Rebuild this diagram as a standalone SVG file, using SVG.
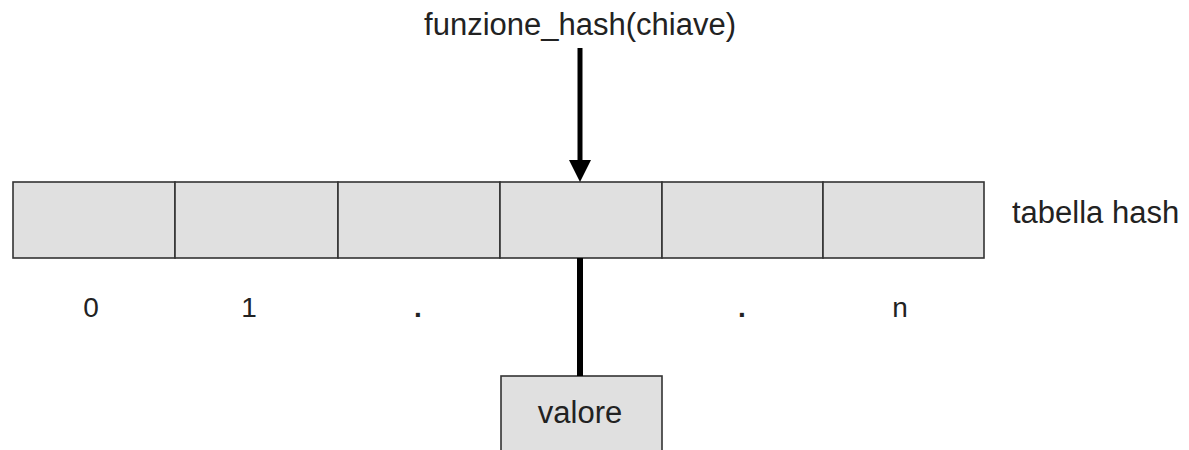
<svg xmlns="http://www.w3.org/2000/svg" width="1189" height="450" viewBox="0 0 1189 450">
<style>
.cell{fill:#e0e0e0;stroke:#333;stroke-width:1.6}
.t{font-family:"Liberation Sans",Arial,sans-serif;font-size:31px;fill:#222;text-anchor:middle}
.lbl{font-family:"Liberation Sans",Arial,sans-serif;font-size:28px;fill:#222;text-anchor:middle}
</style>
<rect width="1189" height="450" fill="#fff"/>
<g id="title"><text class="t" x="580" y="35">funzione_hash(chiave)</text></g>
<g id="tabella">
<rect class="cell" x="13" y="182" width="162" height="76"/>
<rect class="cell" x="175" y="182" width="163" height="76"/>
<rect class="cell" x="338" y="182" width="162" height="76"/>
<rect class="cell" x="500" y="182" width="162" height="76"/>
<rect class="cell" x="662" y="182" width="161" height="76"/>
<rect class="cell" x="823" y="182" width="161" height="76"/>
</g>
<g id="tabella-label"><text class="t" x="1012" y="223" style="text-anchor:start">tabella hash</text></g>
<g id="indici">
<text class="lbl" x="91" y="317">0</text>
<text class="lbl" x="249" y="317">1</text>
<text class="lbl" x="418" y="317" font-weight="bold">.</text>
<text class="lbl" x="742" y="317" font-weight="bold">.</text>
<text class="lbl" x="900" y="317">n</text>
</g>
<g id="valore">
<rect class="cell" x="501" y="376" width="161" height="90"/>
<text class="t" x="580" y="423">valore</text>
</g>
<g id="connectors">
<line x1="580" y1="48" x2="580" y2="162" stroke="#000" stroke-width="5"/>
<polygon points="569,160 591,160 580,182" fill="#000"/>
<line x1="580" y1="258" x2="580" y2="376" stroke="#000" stroke-width="6"/>
</g>
</svg>
